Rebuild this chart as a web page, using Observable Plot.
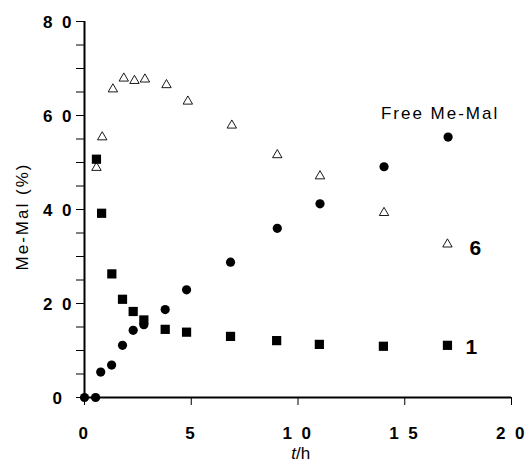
<!DOCTYPE html>
<html><head><meta charset="utf-8">
<script src="https://cdn.jsdelivr.net/npm/d3@7"></script>
<script src="https://cdn.jsdelivr.net/npm/@observablehq/plot@0.6"></script>
<style>
body{margin:0;background:#fff}
svg g[aria-label$="tick label"] text{letter-spacing:2.5px}
</style>
</head><body><div id="chart"></div>
<script>
// Compound 1 (filled squares)
const t1 = [0.56, 0.8, 1.28, 1.78, 2.28, 2.78, 3.78, 4.78, 6.84, 9.0, 11.0, 14.0, 17.0];
const v1 = [50.7, 39.2, 26.3, 20.9, 18.3, 16.5, 14.5, 13.9, 13.0, 12.1, 11.3, 10.9, 11.1];
// Compound 6 (open triangles)
const t6 = [0.56, 0.83, 1.33, 1.84, 2.34, 2.83, 3.84, 4.84, 6.9, 9.03, 11.03, 14.03, 17.0];
const v6 = [48.9, 55.4, 65.6, 67.9, 67.4, 67.7, 66.5, 63.0, 57.9, 51.6, 47.1, 39.3, 32.6];
// Free Me-Mal (filled circles)
const tF = [0, 0.52, 0.76, 1.27, 1.78, 2.28, 2.78, 3.78, 4.78, 6.84, 9.03, 11.03, 14.03, 17.03];
const vF = [0, 0, 5.4, 6.9, 11.1, 14.3, 15.5, 18.7, 22.9, 28.8, 36.0, 41.2, 49.1, 55.4];

const seriesNames = ["1", "6", "Free Me-Mal"];
const xTicks = [0, 5, 10, 15, 20];
const yTicks = [0, 5, 10, 15, 20, 25, 30, 35, 40, 45, 50, 55, 60, 65, 70, 75, 80];
const yLabels = [0, 20, 40, 60, 80];
const xLabel = ["t", "/h"];
const yLabel = "Me-Mal (%)";

const d1 = t1.map((t, i) => ({t, v: v1[i]}));
const d6 = t6.map((t, i) => ({t, v: v6[i]}));
const dF = tF.map((t, i) => ({t, v: vF[i]}));
const spaced = d => String(d).split("").join(" ");
const font = "'Liberation Sans', Arial, Helvetica, sans-serif";

const chart = Plot.plot({
  width: 528, height: 468,
  marginLeft: 84, marginRight: 17, marginTop: 21, marginBottom: 71,
  style: {fontFamily: font, background: "#fff", color: "#000"},
  x: {domain: [0, 20], label: null},
  y: {domain: [0, 80], label: null},
  marks: [
    Plot.axisY(yTicks, {tickSize: 8, tickFormat: () => "", strokeWidth: 1, label: null}),
    Plot.axisY(yLabels, {tickSize: 0, tickPadding: 26, textAnchor: "middle", tickFormat: spaced,
      fontSize: 17, fontWeight: "bold", dy: 1, label: null}),
    Plot.axisX(xTicks, {tickSize: 8, tickPadding: 21, tickFormat: spaced,
      fontSize: 17, fontWeight: "bold", strokeWidth: 1, label: null}),
    Plot.ruleX([0], {y1: 0, y2: 80, strokeWidth: 2}),
    Plot.ruleY([0], {x1: 0, x2: 20, strokeWidth: 2}),
    Plot.dot(d6, {x: "t", y: "v", symbol: "triangle", r: 3.5, fill: "white", stroke: "black", strokeWidth: 0.9}),
    Plot.dot(d1, {x: "t", y: "v", symbol: "square", r: 5.2, fill: "black", stroke: "none"}),
    Plot.dot(dF, {x: "t", y: "v", symbol: "circle", r: 4.6, fill: "black", stroke: "none"}),
    Plot.text([d1[d1.length - 1]], {x: "t", y: "v", text: () => seriesNames[0], dx: 24, dy: 2,
      fontSize: 21, fontWeight: "bold", textAnchor: "middle"}),
    Plot.text([d6[d6.length - 1]], {x: "t", y: "v", text: () => seriesNames[1], dx: 28, dy: 4,
      fontSize: 21, fontWeight: "bold", textAnchor: "middle"}),
    Plot.text([dF[dF.length - 1]], {x: "t", y: "v", text: () => seriesNames[2], dx: -8, dy: -24,
      fontSize: 17, textAnchor: "middle"}),
    Plot.text([yLabel], {frameAnchor: "left", rotate: -90, dx: -62, dy: 7, fontSize: 17, textAnchor: "middle"}),
    Plot.text([xLabel[0]], {frameAnchor: "bottom", dx: -2, dy: 61, fontSize: 17, fontStyle: "italic", textAnchor: "end"}),
    Plot.text([xLabel[1]], {frameAnchor: "bottom", dx: -2, dy: 61, fontSize: 17, textAnchor: "start"})
  ]
});
document.getElementById("chart").appendChild(chart);
d3.select(chart).selectAll("text").filter(function(){ return this.textContent === "Free Me-Mal" || this.textContent === "Me-Mal (%)"; }).style("letter-spacing", "2px");
</script>
</body></html>
